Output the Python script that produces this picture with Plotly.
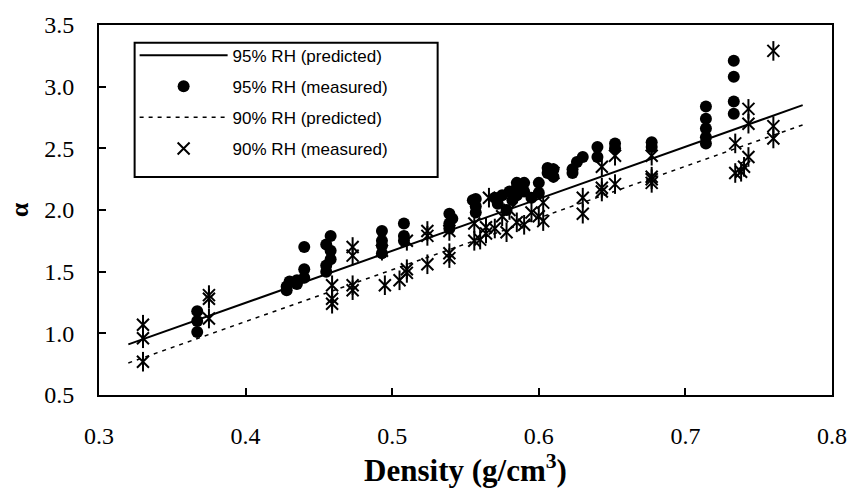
import plotly.graph_objects as go

# Predicted lines (end points)
pred_density = [0.32, 0.78]
pred_95 = [0.91, 2.85]
pred_90 = [0.76, 2.69]

# 95% RH measured
m95_density = [0.367, 0.367, 0.367, 0.428, 0.428, 0.43, 0.435, 0.435, 0.44, 0.44, 0.44,
               0.455, 0.455, 0.455, 0.458, 0.458, 0.458, 0.493, 0.493, 0.493, 0.493,
               0.508, 0.508, 0.508, 0.539, 0.539, 0.539, 0.541, 0.557, 0.557, 0.557, 0.555,
               0.57, 0.572, 0.575, 0.578, 0.58, 0.582, 0.585, 0.585, 0.585, 0.59, 0.59, 0.595,
               0.60, 0.60, 0.606, 0.606, 0.61, 0.61, 0.623, 0.623, 0.626, 0.63, 0.64, 0.64,
               0.652, 0.652, 0.677, 0.677, 0.714, 0.714, 0.714, 0.714, 0.714,
               0.733, 0.733, 0.733, 0.733]
m95_alpha = [1.18, 1.10, 1.01, 1.35, 1.38, 1.42, 1.43, 1.40, 1.70, 1.52, 1.45,
             1.50, 1.55, 1.72, 1.79, 1.67, 1.60, 1.83, 1.75, 1.71, 1.65,
             1.89, 1.79, 1.75, 1.97, 1.89, 1.85, 1.93, 2.09, 2.03, 1.98, 2.08,
             2.10, 2.05, 2.12, 2.00, 2.15, 2.08, 2.22, 2.18, 2.12, 2.22, 2.15, 2.10,
             2.22, 2.14, 2.34, 2.30, 2.33, 2.27, 2.33, 2.30, 2.39, 2.43, 2.51, 2.43,
             2.54, 2.50, 2.55, 2.51, 2.84, 2.74, 2.66, 2.59, 2.54,
             3.21, 3.08, 2.88, 2.78]

# 90% RH measured
m90_density = [0.33, 0.33, 0.33, 0.375, 0.375, 0.375, 0.459, 0.459, 0.459,
               0.473, 0.473, 0.473, 0.473, 0.493, 0.495, 0.505, 0.51, 0.51, 0.51,
               0.524, 0.524, 0.524, 0.539, 0.539, 0.539, 0.556, 0.556, 0.564, 0.564,
               0.566, 0.56, 0.57, 0.575, 0.578, 0.58, 0.585, 0.59, 0.595, 0.60,
               0.603, 0.603, 0.61, 0.63, 0.63, 0.643, 0.643, 0.643, 0.652, 0.652,
               0.677, 0.677, 0.677, 0.677, 0.734, 0.734, 0.743, 0.743, 0.743, 0.74,
               0.738, 0.76, 0.76, 0.76]
m90_alpha = [1.07, 0.96, 0.77, 1.31, 1.28, 1.12, 1.39, 1.28, 1.24,
             1.70, 1.63, 1.39, 1.35, 1.67, 1.39, 1.43, 1.52, 1.49, 1.75,
             1.83, 1.79, 1.56, 1.83, 1.65, 1.61, 1.89, 1.75, 1.86, 1.81,
             2.10, 1.76, 1.85, 1.95, 1.82, 2.00, 1.90, 1.88, 1.98, 1.95,
             2.06, 1.91, 2.30, 2.10, 1.97, 2.35, 2.18, 2.15, 2.21, 2.44,
             2.27, 2.25, 2.22, 2.44, 2.54, 2.30, 2.82, 2.70, 2.43, 2.35,
             2.31, 3.29, 2.68, 2.58]

fig = go.Figure()

fig.add_trace(go.Scatter(x=pred_density, y=pred_95, mode="lines",
                         line=dict(color="black", width=2),
                         name="95% RH (predicted)", legendgroup="a"))
fig.add_trace(go.Scatter(x=m95_density, y=m95_alpha, mode="markers",
                         marker=dict(symbol="circle", size=12, color="black"),
                         name="95% RH (measured)", legendgroup="b"))
fig.add_trace(go.Scatter(x=pred_density, y=pred_90, mode="lines",
                         line=dict(color="black", width=1.5, dash="4px,5px"),
                         name="90% RH (predicted)", legendgroup="c"))
fig.add_trace(go.Scatter(x=m90_density, y=m90_alpha, mode="markers",
                         marker=dict(symbol="x-thin-open", size=12, color="black",
                                     line=dict(color="black", width=2)),
                         name="90% RH (measured)", legendgroup="d"))
fig.add_trace(go.Scatter(x=m90_density, y=m90_alpha, mode="markers",
                         marker=dict(symbol="line-ns-open", size=14, color="black",
                                     line=dict(color="black", width=2)),
                         name="90% RH (measured)", legendgroup="d",
                         showlegend=False))

axis_font = dict(family="Liberation Serif", size=24, color="black")

fig.update_layout(
    width=859, height=500,
    margin=dict(l=99, r=20, t=17, b=105),
    paper_bgcolor="white", plot_bgcolor="white",
    showlegend=True,
    legend=dict(x=0.0486, y=0.966, xanchor="left", yanchor="top",
                borderwidth=0, bgcolor="rgba(0,0,0,0)",
                font=dict(family="Liberation Sans", size=17, color="black"),
                traceorder="grouped", tracegroupgap=6,
                itemwidth=88),
    shapes=[dict(type="rect", xref="paper", yref="paper",
                 x0=0.0486, x1=0.462, y0=0.589, y1=0.952,
                 line=dict(color="black", width=2), fillcolor="white",
                 layer="above")],
    xaxis=dict(range=[0.3, 0.8], dtick=0.1, tick0=0.3, tickformat=".1f",
               ticks="inside", ticklen=7, tickwidth=2, tickcolor="black",
               showline=True, linecolor="black", linewidth=2, mirror=True,
               showgrid=False, zeroline=False, tickfont=axis_font,
               ticklabelstandoff=18,
               title=dict(text="<b>Density (g/cm<sup>3</sup>)</b>",
                          font=dict(family="Liberation Serif", size=31, color="black"),
                          standoff=10)),
    yaxis=dict(range=[0.5, 3.5], dtick=0.5, tick0=0.5, tickformat=".1f",
               ticks="inside", ticklen=7, tickwidth=2, tickcolor="black",
               showline=True, linecolor="black", linewidth=2, mirror=True,
               showgrid=False, zeroline=False, tickfont=axis_font,
               ticklabelstandoff=18,
               title=dict(text="<b>α</b>",
                          font=dict(family="Liberation Serif", size=26, color="black"),
                          standoff=8)),
)

fig.write_html("out.html")
